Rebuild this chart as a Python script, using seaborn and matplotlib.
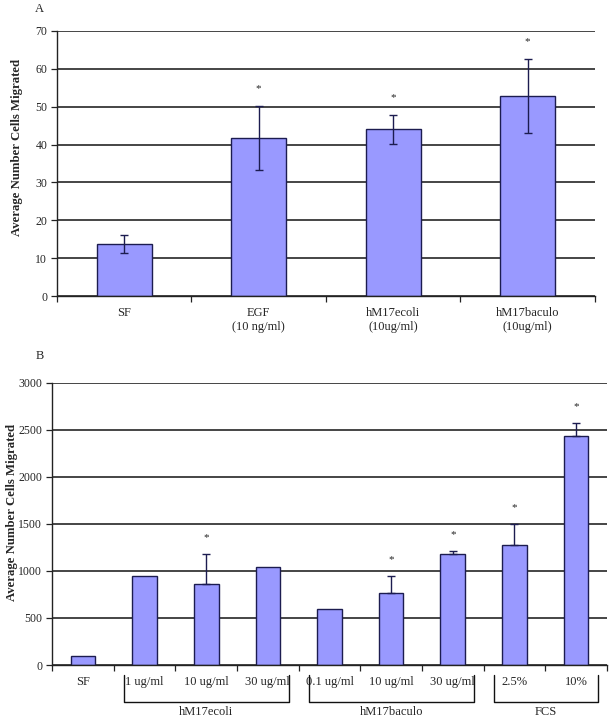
import numpy as np
import pandas as pd
import matplotlib
matplotlib.use("Agg")
import matplotlib.pyplot as plt
import matplotlib.transforms as mtransforms
import seaborn as sns

# ---------------- data ----------------
a_labels = ["SF", "EGF\n(10 ng/ml)", "hM17ecoli\n(10ug/ml)", "hM17baculo\n(10ug/ml)"]
a_means = [13.8, 41.7, 44.0, 52.8]
a_errs = [2.4, 8.4, 3.8, 9.7]
a_sig = [False, True, True, True]

b_labels = ["SF", "1 ug/ml", "10 ug/ml", "30 ug/ml", "0.1 ug/ml", "10 ug/ml",
            "30 ug/ml", "2.5%", "10%"]
b_means = [100, 950, 865, 1040, 592, 765, 1180, 1275, 2435]
b_errs = [0, 0, 315, 0, 0, 182, 35, 223, 140]
b_sig = [False, False, True, False, False, True, True, True, True]
b_groups = ["hM17ecoli", "hM17baculo", "FCS"]
b_group_spans = [(1, 3), (4, 6), (7, 8)]

# ---------------- style ----------------
sns.set_style("white")
plt.rcParams["font.family"] = ["Liberation Serif", "DejaVu Serif"]
plt.rcParams["font.size"] = 8.5

BAR = "#9999FF"
EDGE = "#1c1c50"
GRID = "#262626"

fig = plt.figure(figsize=(6.12, 7.19), dpi=100)
axA = fig.add_axes([0.0931, 0.5883, 0.8791, 0.3686])
axB = fig.add_axes([0.0850, 0.0751, 0.9068, 0.3926])


def style_axis(ax, n, ymax, ystep):
    ax.set_ylim(0, ymax)
    ax.set_xlim(-0.5, n - 0.5)
    ax.set_yticks(np.arange(0, ymax + 1, ystep))
    ax.yaxis.grid(True, color=GRID, linewidth=1.2)
    ax.xaxis.grid(False)
    ax.set_axisbelow(True)
    for s in ["top", "right"]:
        ax.spines[s].set_visible(False)
    for s in ["left", "bottom"]:
        ax.spines[s].set_color("#222222")
        ax.spines[s].set_linewidth(1.0)
    ax.set_xticks(np.arange(-0.5, n, 1.0), minor=True)
    ax.tick_params(axis="x", which="minor", length=4, width=0.9, color="#222222", direction="out", bottom=True)
    ax.tick_params(axis="x", which="major", length=0, pad=8, labelsize=9)
    ax.tick_params(axis="y", length=4, width=0.9, color="#222222", direction="out", left=True, pad=3)
    ax.set_xlabel("")


# ---------------- panel A ----------------
dfA = pd.DataFrame({"pos": np.arange(len(a_means)), "val": a_means})
sns.barplot(data=dfA, x="pos", y="val", color=BAR, saturation=1, edgecolor=EDGE,
            linewidth=1.0, width=0.41, errorbar=None, ax=axA)
xa = np.arange(len(a_means))
axA.errorbar(xa, a_means, yerr=a_errs, fmt="none", ecolor=EDGE, elinewidth=1.0,
             capsize=3.2, capthick=1.0, zorder=5)
style_axis(axA, len(a_means), 70, 10)
axA.set_xticks(xa)
axA.set_xticklabels(a_labels)
axA.set_ylabel("Average Number Cells Migrated", fontweight="bold", fontsize=9.2)
axA.yaxis.set_label_coords(-0.063, 0.56)
for x, m, e, s in zip(xa, a_means, a_errs, a_sig):
    if s:
        axA.text(x, m + e + 4.6, "*", ha="center", va="center", fontsize=8)
fig.text(35 / 612, 1 - 9 / 719, "A", ha="left", va="center", fontsize=9)

# ---------------- panel B ----------------
dfB = pd.DataFrame({"pos": np.arange(len(b_means)), "val": b_means})
sns.barplot(data=dfB, x="pos", y="val", color=BAR, saturation=1, edgecolor=EDGE,
            linewidth=1.0, width=0.40, errorbar=None, ax=axB)
xb = np.arange(len(b_means))
eb = np.array(b_errs, dtype=float)
mask = eb > 0
axB.errorbar(xb[mask], np.array(b_means)[mask], yerr=[np.zeros(mask.sum()), eb[mask]],
             fmt="none", ecolor=EDGE, elinewidth=1.0, capsize=3.2, capthick=1.0, zorder=5)
style_axis(axB, len(b_means), 3000, 500)
axB.set_xticks(xb)
axB.set_xticklabels(b_labels)
axB.set_ylabel("Average Number Cells Migrated", fontweight="bold", fontsize=9.2)
axB.yaxis.set_label_coords(-0.061, 0.54)
for x, m, e, s in zip(xb, b_means, b_errs, b_sig):
    if s:
        axB.text(x, m + e + 175, "*", ha="center", va="center", fontsize=8)
fig.text(36 / 612, 1 - 356 / 719, "B", ha="left", va="center", fontsize=9)

trans = mtransforms.blended_transform_factory(axB.transData, axB.transAxes)
for name, (g0, g1) in zip(b_groups, b_group_spans):
    x0, x1 = g0 - 0.34, g1 + 0.35
    axB.plot([x0, x0, x1, x1], [-0.035, -0.131, -0.131, -0.035], color="#111111",
             lw=1.0, transform=trans, clip_on=False)
    axB.text((x0 + x1) / 2, -0.165, name, ha="center", va="center", transform=trans,
             fontsize=9)

fig.savefig("out.png", dpi=100)
